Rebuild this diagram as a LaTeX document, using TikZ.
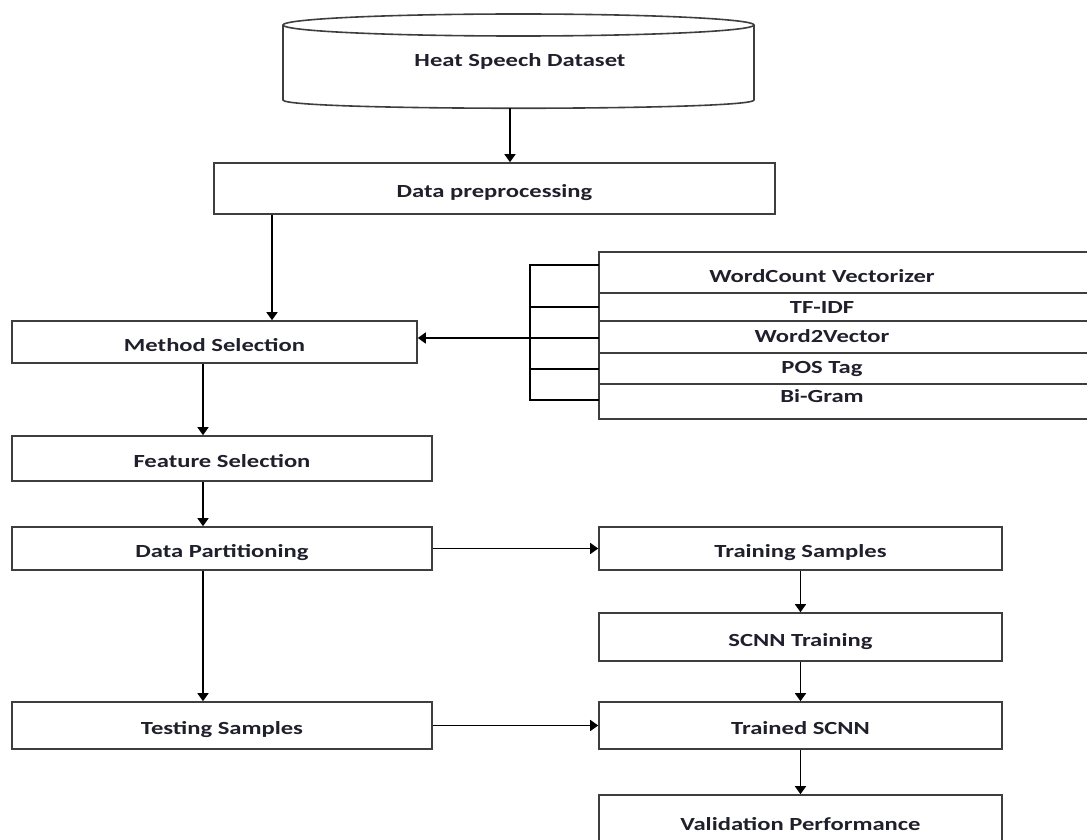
\documentclass[tikz,border=0pt]{standalone}
\usepackage{fontspec}
\setmainfont{Carlito}[FakeStretch=1.33]
\usepackage{tikz}
\usetikzlibrary{arrows.meta}
\definecolor{boxline}{RGB}{62,62,62}
\definecolor{txtdark}{RGB}{32,32,44}
\begin{document}
\begin{tikzpicture}[x=1pt,y=-1pt,
lbl/.style={font=\fontsize{18.5}{22}\selectfont\bfseries,text=txtdark,inner sep=0pt,text height=18pt,text depth=0pt},
box/.style={lbl,draw=boxline,line width=1.6pt,fill=white},
frame/.style={draw=boxline,line width=1.6pt},
wire/.style={draw=black,line width=1.5pt},
flow/.style={-{Triangle[length=8pt,width=11pt]},draw=black,line width=1.5pt}]
\useasboundingbox (0,0) rectangle (1087,840);
\draw[frame] (518.5,25) ellipse[x radius=235.5pt,y radius=11pt];
\draw[frame] (283,25) -- (283,100) .. controls (283,111) and (754,111) .. (754,100) -- (754,25);
\node[lbl] (ds) at (520,57.7) {Heat Speech Dataset};
\coordinate (dsbot) at (510,108);
\node[box,minimum width=561pt,minimum height=51pt] (prep) at (494.5,188.5) {Data preprocessing};
\node[box,minimum width=405pt,minimum height=42pt] (ms) at (214.5,342) {Method Selection};
\node[box,minimum width=420pt,minimum height=45pt] (fs) at (222,458.5) {Feature Selection};
\node[box,minimum width=420pt,minimum height=43pt] (dp) at (222,548.5) {Data Partitioning};
\node[box,minimum width=420pt,minimum height=47pt] (ts) at (222,725.5) {Testing Samples};
\node[box,minimum width=403pt,minimum height=43pt] (trs) at (800.5,548.5) {Training Samples};
\node[box,minimum width=403pt,minimum height=48pt] (sct) at (800.5,637) {SCNN Training};
\node[box,minimum width=403pt,minimum height=47pt] (tsc) at (800.5,725.5) {Trained SCNN};
\node[box,minimum width=403pt,minimum height=52pt] (vp) at (800.5,821) {Validation Performance};
\draw[frame] (599,252) rectangle (1095,419);
\foreach \y in {293,321,353,384} \draw[frame] (599,\y) -- (1095,\y);
\node[lbl] (wcv) at (822,273.7) {WordCount Vectorizer};
\node[lbl] (tfidf) at (822,304) {TF-IDF};
\node[lbl] (w2v) at (822,333.7) {Word2Vector};
\node[lbl] (pos) at (822,364) {POS Tag};
\node[lbl] (bigram) at (822,393.7) {Bi-Gram};
\draw[wire] (599,265) -| (530,400) -- (599,400);
\foreach \y in {307,369} \draw[wire] (530,\y) -- (599,\y);
\coordinate (fan) at (599,338);
\coordinate (px) at (272,0);
\coordinate (lx) at (203,0);
\draw[flow] (dsbot) -- (dsbot |- prep.north);
\draw[flow] (px |- prep.south) -- (px |- ms.north);
\draw[flow] (fan) -- (fan -| ms.east);
\draw[flow] (lx |- ms.south) -- (lx |- fs.north);
\draw[flow] (lx |- fs.south) -- (lx |- dp.north);
\draw[flow] (lx |- dp.south) -- (lx |- ts.north);
\draw[flow] (dp) -- (trs);
\draw[flow] (ts) -- (tsc);
\draw[flow] (trs) -- (sct);
\draw[flow] (sct) -- (tsc);
\draw[flow] (tsc) -- (vp);
\end{tikzpicture}
\end{document}
